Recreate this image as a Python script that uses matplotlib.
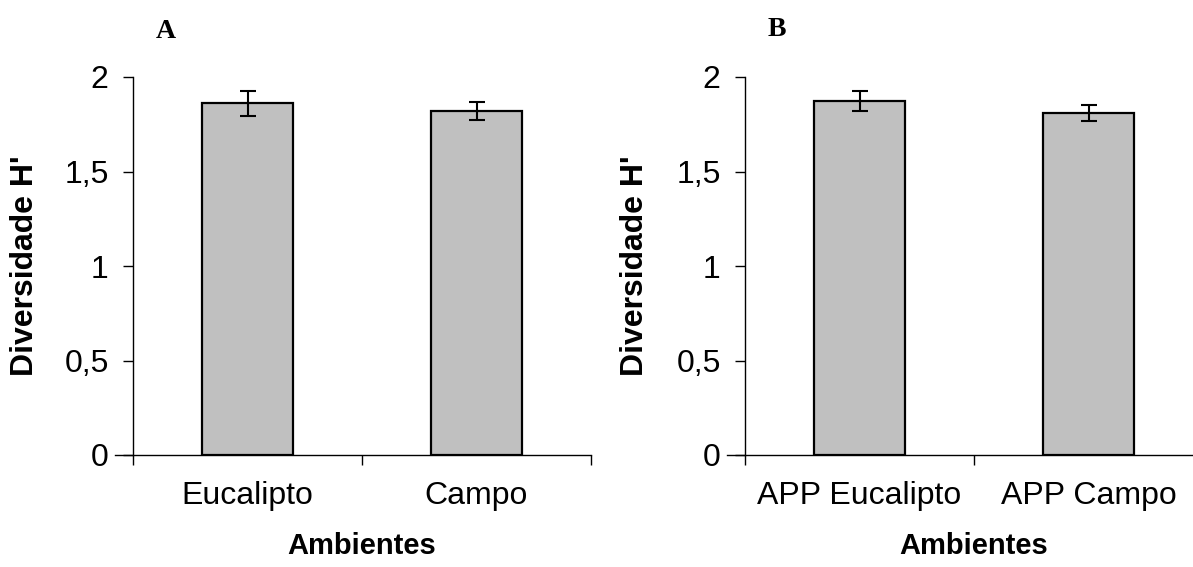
import matplotlib
matplotlib.use("Agg")
import matplotlib.pyplot as plt

plt.rcParams["font.family"] = ["Liberation Sans", "DejaVu Sans"]

# Panel A
cats_a = ["Eucalipto", "Campo"]
vals_a = [1.86, 1.82]
errs_a = [0.066, 0.048]

# Panel B
cats_b = ["APP Eucalipto", "APP Campo"]
vals_b = [1.873, 1.81]
errs_b = [0.055, 0.043]

y_ticks = [0, 0.5, 1, 1.5, 2]
y_tick_labels = ["0", "0,5", "1", "1,5", "2"]

W, H = 1193, 567
fig = plt.figure(figsize=(W / 100, H / 100), dpi=100)

ax_w = 458 / W
ax_b = 1 - 455 / H
ax_h = (455 - 77) / H


def draw_panel(ax, cats, vals, errs, ylab_x):
    pos = list(range(1, len(cats) + 1))
    ax.bar(pos, vals, width=0.4, color="#c0c0c0", edgecolor="black",
           linewidth=1.6, zorder=2)
    ax.errorbar(pos, vals, yerr=errs, fmt="none", ecolor="black",
                elinewidth=1.5, capsize=5.5, capthick=1.5, zorder=3)
    ax.set_xlim(0.5, len(cats) + 0.5)
    ax.set_ylim(0, 2)
    ax.spines["top"].set_visible(False)
    ax.spines["right"].set_visible(False)
    ax.spines["left"].set_linewidth(1.0)
    ax.spines["bottom"].set_linewidth(1.0)
    ax.spines["bottom"].set_bounds(0.5 - 0.08, len(cats) + 0.5)
    ax.set_yticks(y_ticks)
    ax.set_yticklabels(y_tick_labels, fontsize=23)
    ax.tick_params(axis="y", length=7.5, width=1, pad=10)
    # boundaries get the tick marks, centers get the labels
    ax.set_xticks([p + 0.5 for p in [0] + pos])
    ax.set_xticklabels([])
    ax.set_xticks(pos, minor=True)
    ax.set_xticklabels(cats, minor=True, fontsize=23)
    ax.tick_params(axis="x", which="major", length=7.5, width=1)
    ax.tick_params(axis="x", which="minor", length=0, pad=19)
    ax.set_ylabel("Diversidade H'", fontsize=23, fontweight="bold")
    ax.set_xlabel("Ambientes", fontsize=21, fontweight="bold")
    ax.yaxis.set_label_coords(ylab_x, 0.5)
    ax.xaxis.set_label_coords(0.5, -0.205)


ax1 = fig.add_axes([133 / W, ax_b, ax_w, ax_h])
draw_panel(ax1, cats_a, vals_a, errs_a, -0.204)

ax2 = fig.add_axes([745 / W, ax_b, ax_w, ax_h])
draw_panel(ax2, cats_b, vals_b, errs_b, -0.207)

fig.text(166 / W, 1 - 31 / H, "A", fontsize=20, fontweight="bold",
         family="Liberation Serif", ha="center", va="center")
fig.text(777 / W, 1 - 29 / H, "B", fontsize=20, fontweight="bold",
         family="Liberation Serif", ha="center", va="center")

fig.savefig("out.png", dpi=100)
